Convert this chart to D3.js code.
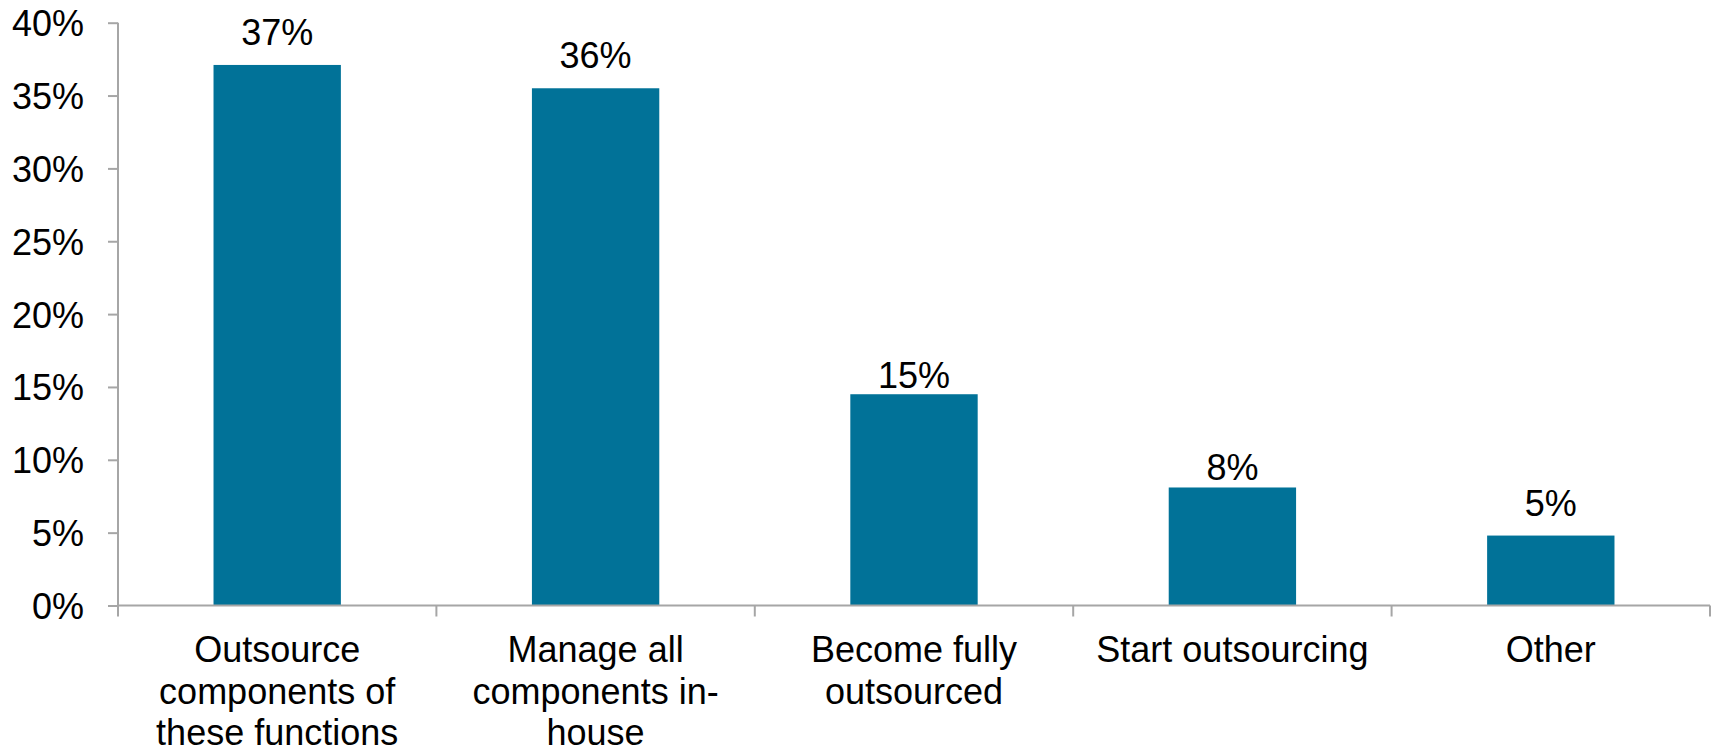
<!DOCTYPE html>
<html><head><meta charset="utf-8">
<script src="https://cdn.jsdelivr.net/npm/d3@7/dist/d3.min.js"></script>
<style>body{margin:0;background:#fff}svg{display:block}text{font-family:"Liberation Sans",Arial,sans-serif;fill:#000}</style>
</head><body><svg id="c" width="1714" height="751"></svg>
<script>
const categories = [
  ["Outsource","components of","these functions"],
  ["Manage all","components in-","house"],
  ["Become fully","outsourced"],
  ["Start outsourcing"],
  ["Other"]
];
const values = [37.1, 35.5, 14.5, 8.1, 4.8];
const valueLabels = ["37%","36%","15%","8%","5%"];
const yTicks = [0,5,10,15,20,25,30,35,40];
// label gap above bar (style)
const labelGap = [20, 20, 6.5, 7, 20];

const svg = d3.select("#c");
const mLeft = 118, mRight = 1710, mTop = 22.7, mBottom = 605.5;
const x = d3.scaleBand().domain(d3.range(categories.length)).range([mLeft, mRight]).paddingInner(0.6).paddingOuter(0.3);
const y = d3.scaleLinear().domain([0,40]).range([mBottom, mTop]);
const axisColor = "#a6a6a6";

// bars
svg.selectAll("rect.bar").data(values).join("rect")
  .attr("x",(d,i)=>x(i)).attr("width",x.bandwidth())
  .attr("y",d=>y(d)).attr("height",d=>y(0)-y(d))
  .attr("fill","#017298");

// value labels
svg.selectAll("text.val").data(values).join("text")
  .attr("x",(d,i)=>x(i)+x.bandwidth()/2).attr("y",(d,i)=>y(d)-labelGap[i])
  .attr("text-anchor","middle").attr("font-size",36)
  .text((d,i)=>valueLabels[i]);

// y axis
const ya = svg.append("g").attr("transform",`translate(${mLeft},0)`)
  .call(d3.axisLeft(y).tickValues(yTicks).tickFormat(d=>d+"%").tickSize(10).tickPadding(24));
ya.selectAll("path,line").attr("stroke",axisColor).attr("stroke-width",2);
ya.select("path").attr("d",`M0,${mTop}V${mBottom}`);
ya.selectAll("text").attr("font-size",36).attr("font-family","Liberation Sans, Arial, sans-serif").attr("fill","#000").attr("dy","0.36em");

// x axis
const boundaries = d3.range(categories.length+1).map(i=>mLeft + i*(mRight-mLeft)/categories.length);
const xa = svg.append("g");
xa.append("line").attr("x1",mLeft).attr("x2",mRight).attr("y1",mBottom).attr("y2",mBottom)
  .attr("stroke",axisColor).attr("stroke-width",2);
xa.selectAll("line.t").data(boundaries).join("line").attr("class","t")
  .attr("x1",d=>d).attr("x2",d=>d).attr("y1",mBottom).attr("y2",mBottom+11)
  .attr("stroke",axisColor).attr("stroke-width",2);

// category labels
const cl = svg.selectAll("text.cat").data(categories).join("text")
  .attr("class","cat").attr("text-anchor","middle").attr("font-size",36)
  .attr("x",(d,i)=>x(i)+x.bandwidth()/2).attr("y",662);
cl.selectAll("tspan").data(d=>d).join("tspan")
  .attr("x",function(){return this.parentNode.getAttribute("x");})
  .attr("dy",(d,i)=>i===0?0:41.5).text(d=>d);
</script></body></html>
